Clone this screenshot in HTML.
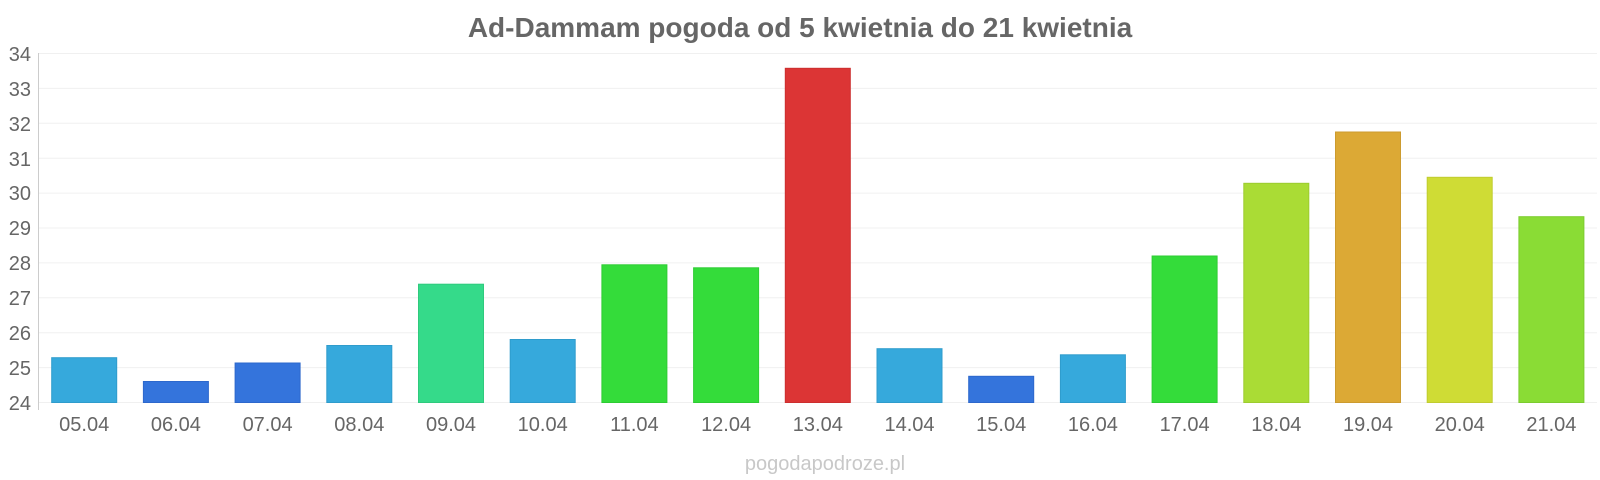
<!DOCTYPE html>
<html><head><meta charset="utf-8"><style>
html,body{margin:0;padding:0;background:#fff;}
svg{display:block;font-family:"Liberation Sans",sans-serif;}
</style></head><body>
<svg width="1600" height="480" viewBox="0 0 1600 480" xmlns="http://www.w3.org/2000/svg">
<rect width="1600" height="480" fill="#fff"/>
<text x="800" y="37" text-anchor="middle" font-size="28" font-weight="bold" fill="#666">Ad-Dammam pogoda od 5 kwietnia do 21 kwietnia</text>
<g stroke="#f0f0f0" stroke-width="1">
<line x1="38" x2="1597" y1="53.5" y2="53.5"/><line x1="38" x2="1597" y1="88.4" y2="88.4"/>
<line x1="38" x2="1597" y1="123.3" y2="123.3"/><line x1="38" x2="1597" y1="158.2" y2="158.2"/>
<line x1="38" x2="1597" y1="193.1" y2="193.1"/><line x1="38" x2="1597" y1="228" y2="228"/>
<line x1="38" x2="1597" y1="262.9" y2="262.9"/><line x1="38" x2="1597" y1="297.8" y2="297.8"/>
<line x1="38" x2="1597" y1="332.7" y2="332.7"/><line x1="38" x2="1597" y1="367.6" y2="367.6"/>
<line x1="38" x2="1597" y1="402.5" y2="402.5"/>
</g>
<line x1="38.5" x2="38.5" y1="53" y2="410" stroke="#ccc"/>
<g font-size="20" fill="#666" text-anchor="end">
<text x="31" y="61">34</text><text x="31" y="96">33</text><text x="31" y="131">32</text><text x="31" y="166">31</text><text x="31" y="200">30</text><text x="31" y="235">29</text><text x="31" y="270">28</text><text x="31" y="305">27</text><text x="31" y="340">26</text><text x="31" y="375">25</text><text x="31" y="410">24</text>
</g>
<g stroke-width="1">
<rect x="51.7" y="357.7" width="65" height="44.8" fill="#36a9dc" stroke="#2f9ccc"/>
<rect x="143.4" y="381.5" width="65" height="21" fill="#3474dc" stroke="#2d68cc"/>
<rect x="235.1" y="363" width="65" height="39.5" fill="#3474dc" stroke="#2d68cc"/>
<rect x="326.8" y="345.5" width="65" height="57" fill="#36a9dc" stroke="#2f9ccc"/>
<rect x="418.5" y="284.2" width="65" height="118.3" fill="#35da8a" stroke="#2fca7d"/>
<rect x="510.2" y="339.5" width="65" height="63" fill="#36a9dc" stroke="#2f9ccc"/>
<rect x="601.9" y="264.8" width="65" height="137.7" fill="#34dc3a" stroke="#2dcc33"/>
<rect x="693.6" y="267.8" width="65" height="134.7" fill="#34dc3a" stroke="#2dcc33"/>
<rect x="785.3" y="68.3" width="65" height="334.2" fill="#dc3535" stroke="#cc2f2f"/>
<rect x="877" y="348.7" width="65" height="53.8" fill="#36a9dc" stroke="#2f9ccc"/>
<rect x="968.7" y="376.3" width="65" height="26.2" fill="#3474dc" stroke="#2d68cc"/>
<rect x="1060.4" y="354.8" width="65" height="47.7" fill="#36a9dc" stroke="#2f9ccc"/>
<rect x="1152.1" y="256" width="65" height="146.5" fill="#34dc3a" stroke="#2dcc33"/>
<rect x="1243.8" y="183.3" width="65" height="219.2" fill="#aadc35" stroke="#9ccc2f"/>
<rect x="1335.5" y="132" width="65" height="270.5" fill="#dca935" stroke="#cc9b2f"/>
<rect x="1427.2" y="177.3" width="65" height="225.2" fill="#cfdc35" stroke="#c0cc2f"/>
<rect x="1518.9" y="216.7" width="65" height="185.8" fill="#8adc35" stroke="#7ccc2f"/>
</g>
<g font-size="20" fill="#666" text-anchor="middle">
<text x="84.2" y="431">05.04</text><text x="175.9" y="431">06.04</text><text x="267.6" y="431">07.04</text><text x="359.3" y="431">08.04</text><text x="451" y="431">09.04</text><text x="542.7" y="431">10.04</text><text x="634.4" y="431">11.04</text><text x="726.1" y="431">12.04</text><text x="817.8" y="431">13.04</text><text x="909.5" y="431">14.04</text><text x="1001.2" y="431">15.04</text><text x="1092.9" y="431">16.04</text><text x="1184.6" y="431">17.04</text><text x="1276.3" y="431">18.04</text><text x="1368" y="431">19.04</text><text x="1459.7" y="431">20.04</text><text x="1551.4" y="431">21.04</text>
</g>
<text x="825" y="470" text-anchor="middle" font-size="20" fill="#c8c8c8">pogodapodroze.pl</text>
</svg>
</body></html>
